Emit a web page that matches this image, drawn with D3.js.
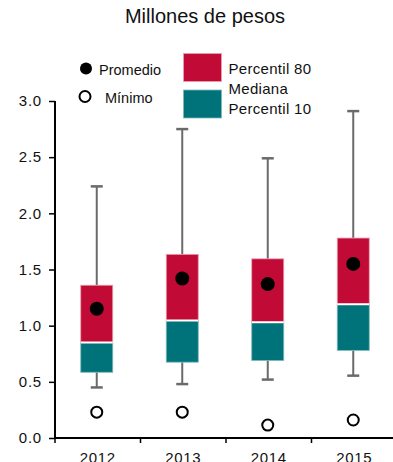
<!DOCTYPE html>
<html><head><meta charset="utf-8">
<script src="https://cdn.jsdelivr.net/npm/d3@7"></script>
<style>
html,body{margin:0;padding:0;background:#fff;}
svg{display:block;font-family:"Liberation Sans",Arial,sans-serif;}
</style></head>
<body>
<svg id="c" width="393" height="462"></svg>
<script>
const years = ["2012","2013","2014","2015"];
const whiskerTop = [2.24, 2.75, 2.49, 2.91];
const p80 = [1.36, 1.635, 1.595, 1.78];
const median = [0.85, 1.045, 1.03, 1.19];
const p10 = [0.585, 0.675, 0.69, 0.78];
const whiskerBottom = [0.45, 0.48, 0.52, 0.555];
const mean = [1.15, 1.42, 1.37, 1.55];
const minimum = [0.23, 0.23, 0.115, 0.16];
const yTicks = [0, 0.5, 1.0, 1.5, 2.0, 2.5, 3.0];

const RED = "#C10A35", TEAL = "#00727A", GRAY = "#6a6a6a";
const svg = d3.select("#c");
const x = d3.scaleBand().domain(years).range([55, 397]).padding(0);
const y = d3.scaleLinear().domain([0, 3]).range([438, 101]);
const bw = 32, cap = 12;

// title
svg.append("text").attr("x", 205).attr("y", 23).attr("text-anchor", "middle")
  .attr("font-size", 20).attr("fill", "#111").text("Millones de pesos");

// y axis
const yAxis = svg.append("g").attr("transform", "translate(55,0)")
  .call(d3.axisLeft(y).tickValues(yTicks).tickFormat(d3.format(".1f")).tickSize(6).tickPadding(7));
yAxis.select(".domain").attr("stroke", "#000").attr("stroke-width", 2).attr("d", `M0,${y(3)}V${y(0)}`);
yAxis.selectAll(".tick line").attr("stroke", "#000").attr("stroke-width", 1.5);
yAxis.selectAll(".tick text").attr("font-size", 15).attr("letter-spacing", 0.8)
  .attr("fill", "#111").attr("font-family", "Liberation Sans, Arial, sans-serif");

// x axis
const xAxis = svg.append("g").attr("transform", `translate(0,${y(0)})`)
  .call(d3.axisBottom(x).tickSize(0).tickPadding(14));
xAxis.select(".domain").attr("stroke", "#000").attr("stroke-width", 2).attr("d", "M55,0H397");
xAxis.selectAll(".tick text").attr("font-size", 15).attr("letter-spacing", 0.6)
  .attr("fill", "#111").attr("font-family", "Liberation Sans, Arial, sans-serif");
const bounds = years.map(d => x(d)).concat([x(years[years.length-1]) + x.bandwidth()]);
xAxis.selectAll(".bt").data(bounds).enter().append("line")
  .attr("x1", d => d).attr("x2", d => d).attr("y1", 0).attr("y2", 5)
  .attr("stroke", "#000").attr("stroke-width", 1.5);

const data = years.map((yr, i) => ({yr, wt: whiskerTop[i], p80: p80[i], med: median[i], p10: p10[i], wb: whiskerBottom[i], mean: mean[i], min: minimum[i]}));
const g = svg.append("g");
const cx = d => x(d.yr) + x.bandwidth() / 2 - 1;

// whiskers
g.selectAll(".wu").data(data).enter().append("line")
  .attr("x1", cx).attr("x2", cx).attr("y1", d => y(d.wt)).attr("y2", d => y(d.p80))
  .attr("stroke", GRAY).attr("stroke-width", 2);
g.selectAll(".wl").data(data).enter().append("line")
  .attr("x1", cx).attr("x2", cx).attr("y1", d => y(d.p10)).attr("y2", d => y(d.wb))
  .attr("stroke", GRAY).attr("stroke-width", 2);
g.selectAll(".ct").data(data).enter().append("line")
  .attr("x1", d => cx(d) - cap/2).attr("x2", d => cx(d) + cap/2).attr("y1", d => y(d.wt)).attr("y2", d => y(d.wt))
  .attr("stroke", GRAY).attr("stroke-width", 2.5);
g.selectAll(".cb").data(data).enter().append("line")
  .attr("x1", d => cx(d) - cap/2).attr("x2", d => cx(d) + cap/2).attr("y1", d => y(d.wb)).attr("y2", d => y(d.wb))
  .attr("stroke", GRAY).attr("stroke-width", 2.5);

// boxes
g.selectAll(".rb").data(data).enter().append("rect")
  .attr("x", d => cx(d) - bw/2).attr("width", bw)
  .attr("y", d => y(d.p80)).attr("height", d => y(d.med) - y(d.p80))
  .attr("fill", RED).attr("stroke", "#e8a0b0").attr("stroke-width", 0.8);
g.selectAll(".tb").data(data).enter().append("rect")
  .attr("x", d => cx(d) - bw/2).attr("width", bw)
  .attr("y", d => y(d.med)).attr("height", d => y(d.p10) - y(d.med))
  .attr("fill", TEAL).attr("stroke", "#7fb8bc").attr("stroke-width", 0.8);
g.selectAll(".ml").data(data).enter().append("line")
  .attr("x1", d => cx(d) - bw/2).attr("x2", d => cx(d) + bw/2).attr("y1", d => y(d.med)).attr("y2", d => y(d.med))
  .attr("stroke", "#fff").attr("stroke-width", 2);

// mean & min
g.selectAll(".mean").data(data).enter().append("circle")
  .attr("cx", cx).attr("cy", d => y(d.mean)).attr("r", 7).attr("fill", "#000");
g.selectAll(".min").data(data).enter().append("circle")
  .attr("cx", cx).attr("cy", d => y(d.min)).attr("r", 5.5).attr("fill", "#fff")
  .attr("stroke", "#000").attr("stroke-width", 2);

// legend
const lg = svg.append("g");
lg.append("circle").attr("cx", 86).attr("cy", 68.5).attr("r", 6).attr("fill", "#000");
lg.append("text").attr("x", 99).attr("y", 74.5).attr("font-size", 14.5).attr("fill", "#111").text("Promedio");
lg.append("circle").attr("cx", 85).attr("cy", 96.5).attr("r", 5.5).attr("fill", "#fff").attr("stroke", "#000").attr("stroke-width", 2);
lg.append("text").attr("x", 105).attr("y", 102.5).attr("font-size", 14.5).attr("fill", "#111").text("Mínimo");
lg.append("rect").attr("x", 183.5).attr("y", 53.5).attr("width", 38).attr("height", 28).attr("fill", RED).attr("stroke", "#e8a0b0").attr("stroke-width", 0.8);
lg.append("rect").attr("x", 183.5).attr("y", 90).attr("width", 38).attr("height", 28).attr("fill", TEAL).attr("stroke", "#7fb8bc").attr("stroke-width", 0.8);
lg.append("text").attr("x", 228.5).attr("y", 74).attr("font-size", 15).attr("letter-spacing", 0.3).attr("fill", "#111").text("Percentil 80");
lg.append("text").attr("x", 228.5).attr("y", 93.5).attr("font-size", 15).attr("letter-spacing", 0.3).attr("fill", "#111").text("Mediana");
lg.append("text").attr("x", 228.5).attr("y", 113.5).attr("font-size", 15).attr("letter-spacing", 0.3).attr("fill", "#111").text("Percentil 10");
</script>
</body></html>
